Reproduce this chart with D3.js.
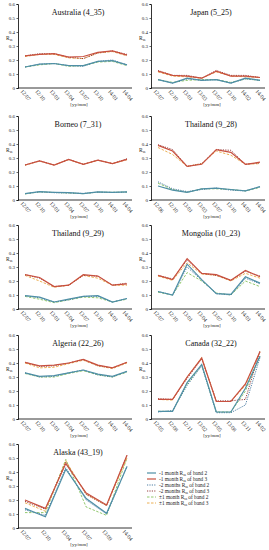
<!DOCTYPE html>
<html><head><meta charset="utf-8">
<script src="https://cdn.jsdelivr.net/npm/d3@7"></script>
<style>
html,body{margin:0;padding:0;background:#fff;}
svg{display:block;font-family:"Liberation Serif","DejaVu Serif",serif;}
</style></head>
<body><svg id="c" width="269" height="550"></svg>
<script>
// ---- data (series order: -1m b2, -1m b3, -2m b2, -2m b3, ±1m b2, ±1m b3)
const titles = ["Australia (4_35)","Japan (5_25)","Borneo (7_31)","Thailand (9_28)","Thailand (9_29)","Mongolia (10_23)","Algeria (22_26)","Canada (32_22)","Alaska (43_19)"];
const ticksAustralia = ["12/07","12/10","13/01","13/04","13/07","13/10","14/01","14/04"];
const ticksJapan = ["12/07","12/10","13/01","13/03","13/07","13/10","14/02","14/04"];
const ticksBorneo = ["12/07","12/10","13/01","13/04","13/07","13/10","14/01","14/04"];
const ticksThai28 = ["12/06","12/10","13/01","13/03","13/07","13/10","14/01","14/04"];
const ticksThai29 = ["12/07","12/10","13/01","13/04","13/07","13/10","14/01","14/04"];
const ticksMongolia = ["12/07","12/10","13/01","13/04","13/07","13/10","14/01","14/04"];
const ticksAlgeria = ["12/07","12/10","13/01","13/04","13/07","13/10","14/01","14/04"];
const ticksCanada = ["12/05","12/08","12/11","13/02","13/05","13/08","13/11","14/02"];
const ticksAlaska = ["12/07","12/10","13/04","13/07","13/09","14/04"];

const australia = [
 [0.15,0.17,0.175,0.16,0.16,0.19,0.195,0.165],
 [0.23,0.24,0.245,0.22,0.225,0.255,0.265,0.235],
 [0.15,0.17,0.175,0.16,0.155,0.19,0.2,0.165],
 [0.23,0.245,0.245,0.22,0.21,0.25,0.265,0.24],
 [0.15,0.165,0.175,0.155,0.16,0.185,0.19,0.16],
 [0.225,0.24,0.24,0.215,0.21,0.25,0.26,0.23]];
const japan = [
 [0.06,0.035,0.07,0.055,0.06,0.035,0.07,0.055],
 [0.12,0.09,0.085,0.07,0.12,0.085,0.085,0.075],
 [0.06,0.035,0.065,0.055,0.06,0.035,0.065,0.055],
 [0.125,0.09,0.09,0.07,0.125,0.09,0.09,0.075],
 [0.06,0.04,0.055,0.06,0.06,0.04,0.065,0.055],
 [0.115,0.085,0.08,0.07,0.115,0.085,0.08,0.075]];
const borneo = [
 [0.045,0.06,0.055,0.052,0.045,0.058,0.055,0.058],
 [0.25,0.28,0.25,0.29,0.255,0.285,0.26,0.29],
 [0.045,0.058,0.052,0.05,0.047,0.056,0.054,0.056],
 [0.25,0.28,0.25,0.29,0.255,0.285,0.26,0.295],
 [0.043,0.058,0.054,0.05,0.045,0.056,0.055,0.057],
 [0.248,0.278,0.25,0.288,0.255,0.283,0.26,0.288]];
const thai28 = [
 [0.1,0.07,0.055,0.08,0.085,0.075,0.065,0.095],
 [0.39,0.35,0.24,0.255,0.36,0.34,0.255,0.27],
 [0.13,0.08,0.06,0.075,0.085,0.07,0.065,0.095],
 [0.395,0.36,0.24,0.26,0.36,0.355,0.255,0.265],
 [0.12,0.075,0.055,0.08,0.08,0.075,0.065,0.09],
 [0.375,0.325,0.24,0.26,0.35,0.32,0.255,0.26]];
const thai29 = [
 [0.095,0.085,0.05,0.07,0.09,0.095,0.05,0.075],
 [0.245,0.225,0.16,0.17,0.245,0.235,0.17,0.18],
 [0.095,0.08,0.05,0.065,0.09,0.09,0.05,0.075],
 [0.245,0.22,0.16,0.17,0.24,0.235,0.17,0.185],
 [0.09,0.07,0.045,0.065,0.085,0.08,0.05,0.07],
 [0.24,0.2,0.155,0.17,0.24,0.22,0.17,0.17]];
const mongolia = [
 [0.125,0.1,0.32,0.21,0.11,0.105,0.23,0.185],
 [0.24,0.21,0.36,0.255,0.245,0.205,0.275,0.23],
 [0.125,0.1,0.3,0.205,0.11,0.1,0.22,0.18],
 [0.24,0.215,0.35,0.255,0.24,0.205,0.27,0.235],
 [0.12,0.1,0.26,0.2,0.115,0.1,0.2,0.16],
 [0.235,0.205,0.33,0.25,0.24,0.2,0.255,0.22]];
const algeria = [
 [0.33,0.305,0.31,0.33,0.35,0.32,0.305,0.34],
 [0.405,0.38,0.385,0.4,0.425,0.385,0.365,0.405],
 [0.33,0.3,0.305,0.33,0.35,0.315,0.3,0.34],
 [0.405,0.375,0.38,0.4,0.425,0.38,0.365,0.405],
 [0.325,0.3,0.3,0.325,0.345,0.315,0.3,0.335],
 [0.4,0.365,0.37,0.395,0.42,0.38,0.36,0.4]];
const canada = [
 [0.055,0.055,0.26,0.39,0.05,0.05,0.22,0.45],
 [0.14,0.14,0.3,0.435,0.125,0.125,0.25,0.48],
 [0.05,0.06,0.24,0.38,0.045,0.045,0.1,0.44],
 [0.145,0.14,0.29,0.43,0.13,0.13,0.14,0.49],
 [0.055,0.055,0.25,0.385,0.05,0.05,0.2,0.45],
 [0.14,0.135,0.3,0.44,0.125,0.125,0.24,0.48]];
const alaska = [
 [0.14,0.08,0.42,0.21,0.105,0.44],
 [0.2,0.14,0.46,0.25,0.165,0.52],
 [0.13,0.09,0.43,0.2,0.1,0.44],
 [0.19,0.135,0.47,0.24,0.16,0.52],
 [0.11,0.11,0.49,0.15,0.09,0.5],
 [0.18,0.12,0.48,0.24,0.16,0.5]];
const yTicks = [0,0.1,0.2,0.3,0.4,0.5,0.6];
const legendPrefix = ["-1 month","-1 month","-2 months","-2 months","\u00b11 month","\u00b11 month"];
const legendBand = ["band 2","band 3","band 2","band 3","band 2","band 3"];

// ---- styles
const colors = ["#4f8fa6","#c8503f","#3a6f9a","#8b2a2a","#86c25e","#eaa63e"];
const dashes = [null,null,"1.2,1.2","1.2,1.2","2.5,1.5","2.5,1.5"];
const widths = [1.2,1.2,0.9,0.9,0.9,0.9];

const panels = [
 {title:titles[0],data:australia,ticks:ticksAustralia},
 {title:titles[1],data:japan,ticks:ticksJapan},
 {title:titles[2],data:borneo,ticks:ticksBorneo},
 {title:titles[3],data:thai28,ticks:ticksThai28},
 {title:titles[4],data:thai29,ticks:ticksThai29},
 {title:titles[5],data:mongolia,ticks:ticksMongolia},
 {title:titles[6],data:algeria,ticks:ticksAlgeria},
 {title:titles[7],data:canada,ticks:ticksCanada},
 {title:titles[8],data:alaska,ticks:ticksAlaska}];

const svg = d3.select("#c");
const rowTop = [4,116,225,335,444];
const plotH = 84;
const colX = [18,151];
const plotW = 114;

panels.forEach((p,i)=>{
  const col = i%2, row = Math.floor(i/2);
  const x0 = colX[col], y0 = rowTop[row];
  const g = svg.append("g").attr("transform",`translate(${x0},${y0})`);
  const y = d3.scaleLinear().domain([0,0.6]).range([plotH,0]);
  const x = d3.scalePoint().domain(p.ticks).range([7,plotW-5]);

  const ya = g.append("g").call(d3.axisLeft(y).tickValues(yTicks).tickFormat(d=>d===0?"0":d3.format(".1f")(d)).tickSize(1.5).tickPadding(1.5));
  ya.select(".domain").attr("stroke","#000").attr("stroke-width",0.8);
  ya.selectAll("text").attr("font-size",5).attr("font-family","Liberation Serif").attr("fill","#222");
  ya.selectAll(".tick line").attr("stroke","#000").attr("stroke-width",0.6);

  const xa = g.append("g").attr("transform",`translate(0,${plotH})`)
    .call(d3.axisBottom(x).tickSize(0).tickSizeOuter(0).tickPadding(2));
  xa.select(".domain").attr("d",`M0,0H${plotW}`).attr("stroke","#000").attr("stroke-width",0.8);
  xa.selectAll("text").attr("font-size",5.5).attr("font-family","Liberation Serif").attr("fill","#222")
    .attr("text-anchor","start").attr("dy","0.2em")
    .attr("transform","translate(-3,1.5) rotate(50)");

  g.append("text").attr("x",plotW/2+3).attr("y",11).attr("text-anchor","middle")
    .attr("font-size",8).attr("fill","#111").text(p.title);
  g.append("text").attr("x",plotW/2+4).attr("y",plotH+18).attr("text-anchor","middle")
    .attr("font-size",5).attr("fill","#222").text("[yy/mm]");
  const yl = g.append("text").attr("x",-12).attr("y",y(0.34)).attr("font-size",5.5).attr("fill","#222");
  yl.append("tspan").text("R");
  yl.append("tspan").attr("font-size",3.5).attr("dy",1).text("ss");

  const line = d3.line().x((d,k)=>x(p.ticks[k])).y(d=>y(d));
  [4,5,2,3,0,1].forEach(s=>{
    g.append("path").datum(p.data[s]).attr("d",line).attr("fill","none")
      .attr("stroke",colors[s]).attr("stroke-width",widths[s])
      .attr("stroke-dasharray",dashes[s]);
  });
});

// legend
const lg = svg.append("g").attr("transform","translate(147,473)");
legendPrefix.forEach((pre,i)=>{
  const yy = i*6;
  lg.append("line").attr("x1",0).attr("x2",9).attr("y1",yy).attr("y2",yy)
    .attr("stroke",colors[i]).attr("stroke-width",widths[i]).attr("stroke-dasharray",dashes[i]);
  const t = lg.append("text").attr("x",12).attr("y",yy+1.8).attr("font-size",5.3).attr("fill","#222");
  t.append("tspan").text(pre+" R");
  t.append("tspan").attr("font-size",3.5).attr("dy",1).text("ss");
  t.append("tspan").attr("dy",-1).text(" of "+legendBand[i]);
});
</script></body></html>
